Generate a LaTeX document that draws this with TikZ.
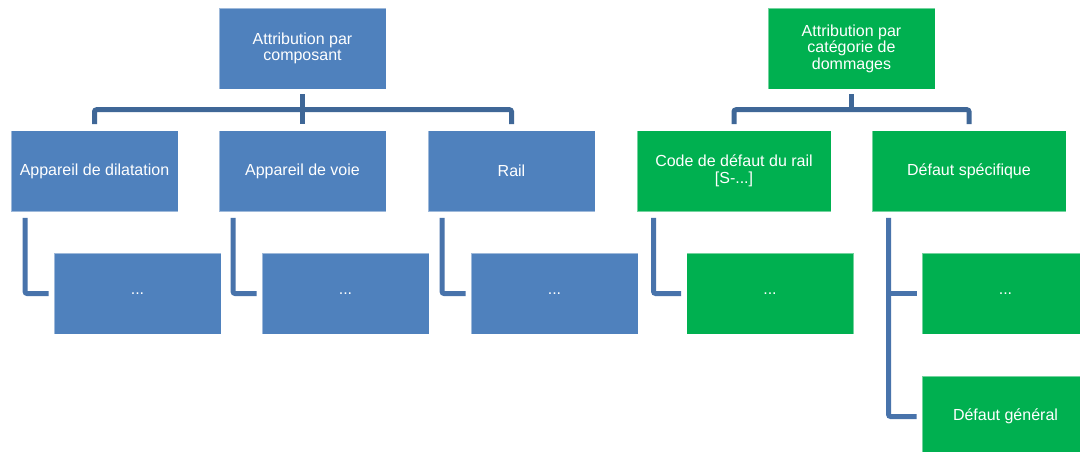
\documentclass[tikz,border=0pt]{standalone}
\usepackage{fontspec}
\setmainfont{Liberation Sans}
\usetikzlibrary{calc}
\definecolor{bluebox}{HTML}{4F81BD}
\definecolor{greenbox}{HTML}{00B050}
\definecolor{barcol}{HTML}{3F6797}
\definecolor{childcol}{HTML}{4873AB}
\begin{document}
\begin{tikzpicture}[x=1pt,y=-1pt,
  boxbase/.style={draw=white, draw opacity=0.45, line width=0.8pt, minimum height=81pt, inner sep=0pt,
    text=white, align=center, font=\fontsize{16}{16.5}\selectfont},
  bbox/.style={boxbase, fill=bluebox, minimum width=167pt},
  gbox/.style={boxbase, fill=greenbox, minimum width=167pt},
  gwide/.style={boxbase, fill=greenbox, minimum width=194pt},
  barline/.style={draw=barcol, line width=5pt, rounded corners=2pt},
  childline/.style={draw=childcol, line width=5pt, rounded corners=2pt}]
\useasboundingbox (0,0) rectangle (1080,452);
\clip (0,0) rectangle (1080,452);
\fill[white] (0,0) rectangle (1080,452);

% Blue tree
\node[bbox] (T1) at (302.5,48.5) {Attribution par\\composant};
\node[bbox] (B1) at (94.5,171) {Appareil de dilatation};
\node[bbox] (B2) at (302.5,171) {Appareil de voie};
\node[bbox] (B3) at (511.5,171) {Rail};
\node[bbox] (C1) at (137.5,293.5) {...};
\node[bbox] (C2) at (345.5,293.5) {...};
\node[bbox] (C3) at (554.5,293.5) {...};

\draw[barline] ([yshift=-5pt]T1.south) -- ([yshift=6pt]B2.north);
\draw[barline] ([yshift=6pt]B1.north) |- ($(T1.south)!.5!(B2.north)$) -| ([yshift=6pt]B3.north);
\draw[childline] ([xshift=14.5pt,yshift=-6pt]B1.south west) |- ([xshift=-5pt]C1.west);
\draw[childline] ([xshift=14.5pt,yshift=-6pt]B2.south west) |- ([xshift=-5pt]C2.west);
\draw[childline] ([xshift=14.5pt,yshift=-6pt]B3.south west) |- ([xshift=-5pt]C3.west);

% Green tree
\node[gbox] (GT) at (851.5,48.5) {Attribution par\\catégorie de\\dommages};
\node[gwide] (G1) at (734,171) {Code de défaut du rail\\{}[S-...]};
\node[gwide] (G2) at (969,171) {Défaut spécifique};
\node[gbox] (GC1) at (770,293.5) {...};
\node[gbox] (GC2) at (1005.5,293.5) {...};
\node[gbox] (GC3) at (1005.5,416.5) {Défaut général};

\draw[barline] ([yshift=-5pt]GT.south) -- ($(GT.south)!.5!(G1.north -| GT.south)$);
\draw[barline] ([yshift=6pt]G1.north) |- ($(GT.south)!.5!(G1.north -| GT.south)$) -| ([yshift=6pt]G2.north);
\draw[childline] ([xshift=17pt,yshift=-6pt]G1.south west) |- ([xshift=-5pt]GC1.west);
\draw[childline] ([xshift=17pt,yshift=-6pt]G2.south west) |- ([xshift=-5pt]GC3.west);
\draw[childline] ([xshift=17pt]G2.south west |- GC2.west) -- ([xshift=-5pt]GC2.west);
\end{tikzpicture}
\end{document}
